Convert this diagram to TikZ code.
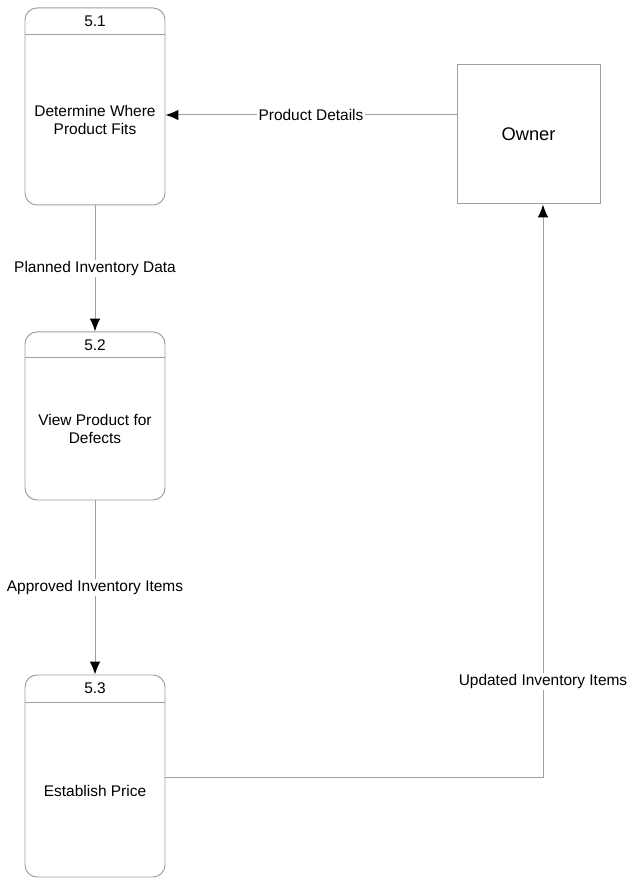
\documentclass[tikz,border=0pt]{standalone}
\usepackage{fontspec}
\setmainfont{Liberation Sans}
\usepackage{tikz}
\usetikzlibrary{arrows.meta,positioning,calc}

\tikzset{
  process/.style={draw=gray!75,line width=0.7pt,rounded corners=0.3cm,minimum width=3.5cm,inner sep=0pt},
  flow/.style={draw=gray!75,line width=0.7pt,-{Latex[black,length=3.2mm,width=2.6mm]}},
  flowlabel/.style={fill=white,inner sep=1pt}
}

\begin{document}
\begin{tikzpicture}[font=\fontsize{11}{13}\selectfont]
\useasboundingbox (0,0) rectangle (15.75,21.975);
% processes
\node[process,minimum height=4.925cm] (p51) at (2.375,19.3125) {};
\node[process,minimum height=4.2cm] (p52) at (2.375,11.575) {};
\node[process,minimum height=5.05cm] (p53) at (2.375,2.575) {};
\draw[gray!75,line width=0.7pt] (p51.west |- 0,21.1) -- (p51.east |- 0,21.1);
\draw[gray!75,line width=0.7pt] (p52.west |- 0,13.025) -- (p52.east |- 0,13.025);
\draw[gray!75,line width=0.7pt] (p53.west |- 0,4.425) -- (p53.east |- 0,4.425);
\node (n51) at (2.375,21.44) {5.1};
\node (n52) at (2.375,13.35) {5.2};
\node (n53) at (2.375,4.76) {5.3};
\node[align=center] (t51) at (2.375,18.98) {Determine Where\\Product Fits};
\node[align=center] (t52) at (2.375,11.25) {View Product for\\Defects};
\node (t53) at (2.375,2.2) {Establish Price};
% external entity
\node[draw=gray!75,line width=0.7pt,minimum width=3.575cm,minimum height=3.475cm,font=\fontsize{13}{15}\selectfont] (owner) at (13.2125,18.6125) {Owner};
% data flows
\draw[flow] (owner.west |- 0,19.1) -- node[flowlabel] {Product Details} (p51.east |- 0,19.1);
\draw[flow] (p51) -- node[flowlabel,pos=0.5] {Planned Inventory Data} (p52);
\draw[flow] (p52) -- node[flowlabel,pos=0.5] {Approved Inventory Items} (p53);
\coordinate (bend) at (13.575,2.55);
\draw[flow] (p53.east |- bend) -- (bend) -- node[flowlabel,pos=0.167] {Updated Inventory Items} (owner.south -| bend);
\end{tikzpicture}
\end{document}
